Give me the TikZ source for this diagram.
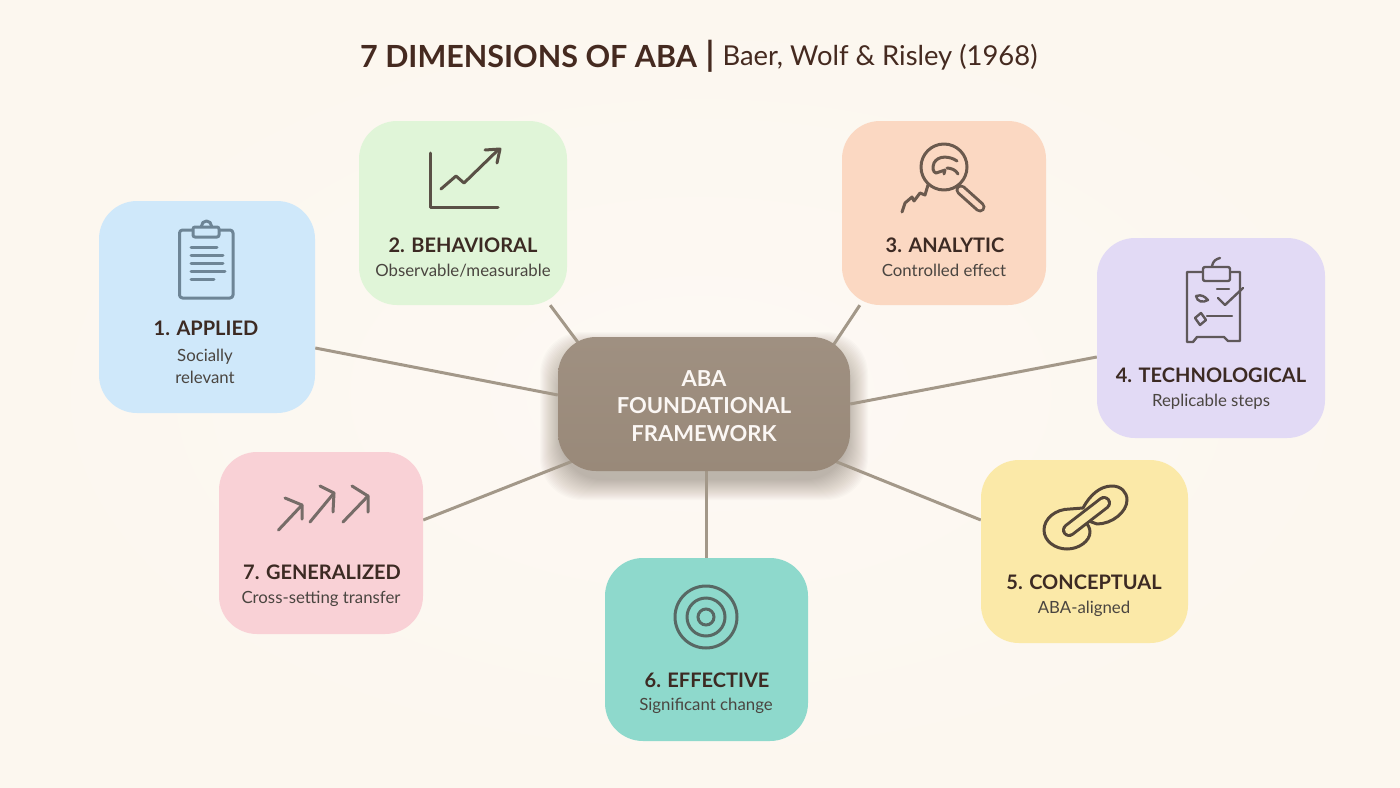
\documentclass[tikz,border=0pt]{standalone}
\usepackage{fontspec}
\setmainfont{Lato}
\usetikzlibrary{backgrounds}

\definecolor{pagecol}{HTML}{FDF9F4}
\definecolor{pageedge}{HTML}{FCF7EF}
\definecolor{inkcol}{HTML}{452A20}
\definecolor{headcol}{HTML}{3C2A23}
\definecolor{subcol}{HTML}{4A4540}
\definecolor{linkcol}{HTML}{A39889}
\definecolor{hubcol}{HTML}{998979}

\tikzset{
    card/.style={inner sep=0pt, rounded corners=38pt},
    headtxt/.style={text=headcol, font=\fontsize{20}{24}\selectfont\bfseries, inner sep=0pt},
    subtxt/.style={text=subcol, font=\fontsize{16.8}{22.5}\selectfont, inner sep=0pt, align=center},
    spoke/.style={draw=linkcol, line width=3pt},
    icon/.style={line width=3pt, line cap=round, line join=round},
}

\begin{document}
\begin{tikzpicture}[x=1pt,y=-1pt]
    \useasboundingbox (0,0) rectangle (1400,787);

    % cards
    \node[card, top color=hubcol!94!white, bottom color=hubcol, minimum width=292pt, minimum height=134pt] (hub) at (704,404) {};
    \node[card, fill={rgb,255:red,207;green,232;blue,250}, minimum width=216pt, minimum height=212pt] (box1) at (207,307) {};
    \node[card, fill={rgb,255:red,224;green,245;blue,216}, minimum width=208pt, minimum height=184pt] (box2) at (463,213) {};
    \node[card, fill={rgb,255:red,251;green,216;blue,194}, minimum width=204pt, minimum height=184pt] (box3) at (944,213) {};
    \node[card, fill={rgb,255:red,226;green,218;blue,245}, minimum width=228pt, minimum height=200pt] (box4) at (1211,338) {};
    \node[card, fill={rgb,255:red,251;green,233;blue,168}, minimum width=207pt, minimum height=183pt] (box5) at (1084.5,551.5) {};
    \node[card, fill={rgb,255:red,142;green,217;blue,204}, minimum width=203pt, minimum height=183pt] (box6) at (706.5,649.5) {};
    \node[card, fill={rgb,255:red,249;green,209;blue,214}, minimum width=204pt, minimum height=182pt] (box7) at (321,543) {};

    \begin{pgfonlayer}{background}
        \shade[inner color=pagecol, outer color=pageedge] (0,0) rectangle (1400,787);
        % soft shadow under the hub
        \foreach \s in {0,1,...,20} {
            \fill[black!70!brown, opacity=0.014, rounded corners=42pt] ({560-\s},{352-\s}) rectangle ({848+\s},{480+\s});
        }
        \draw[spoke] ([yshift=-41pt]box1.east) -- ([yshift=9pt]hub.west);
        \draw[spoke] ([xshift=-17pt]box2.south east) -- ([xshift=22pt,yshift=-8pt]hub.north west);
        \draw[spoke] ([xshift=18pt]box3.south west) -- ([xshift=-18pt,yshift=-10pt]hub.north east);
        \draw[spoke] ([yshift=-19pt]box4.west) -- (hub.east);
        \draw[spoke] ([yshift=31.5pt]box5.west) -- ([xshift=-40pt,yshift=20pt]hub.south east);
        \draw[spoke] (box6.north) -- ([xshift=2.5pt]hub.south);
        \draw[spoke] ([yshift=23pt]box7.east) -- ([xshift=40pt,yshift=20pt]hub.south west);
    \end{pgfonlayer}

    % title
    \node[text=inkcol, font=\fontsize{30.5}{36}\selectfont\bfseries, inner sep=0pt] (title) at (528.5,56) {7 DIMENSIONS OF ABA};
    \node[text=inkcol, font=\fontsize{34}{36}\selectfont\bfseries, inner sep=0pt] (bar) at (710,56) {|};
    \node[text=inkcol, font=\fontsize{27.4}{36}\selectfont, inner sep=0pt] (cite) at (880,57.5) {Baer, Wolf \& Risley (1968)};

    \node[text=white!94!brown, font=\fontsize{22}{27.3}\selectfont\bfseries, inner sep=0pt, align=center] (hubtxt) at (704,406) {ABA\\FOUNDATIONAL\\FRAMEWORK};

    % labels
    \node[headtxt] (head1) at (206,328) {1. APPLIED};
    \node[subtxt] (sub1) at (205,366.5) {Socially\\relevant};
    \node[headtxt] (head2) at (463,245) {2. BEHAVIORAL};
    \node[subtxt] (sub2) at (463,270.5) {Observable/measurable};
    \node[headtxt] (head3) at (945,245) {3. ANALYTIC};
    \node[subtxt] (sub3) at (944,270.5) {Controlled effect};
    \node[headtxt] (head4) at (1211,375.5) {4. TECHNOLOGICAL};
    \node[subtxt] (sub4) at (1211,402) {Replicable steps};
    \node[headtxt] (head5) at (1084,582) {5. CONCEPTUAL};
    \node[subtxt] (sub5) at (1084,609) {ABA-aligned};
    \node[headtxt] (head6) at (707,680) {6. EFFECTIVE};
    \node[subtxt] (sub6) at (706,706) {Significant change};
    \node[headtxt] (head7) at (322,572) {7. GENERALIZED};
    \node[subtxt] (sub7) at (321,599) {Cross-setting transfer};

    % clipboard
    \begin{scope}[icon, draw={rgb,255:red,110;green,133;blue,150}]
        \draw[rounded corners=3pt] (179.5,230) rectangle (233,298);
        \draw[fill={rgb,255:red,207;green,232;blue,250}, rounded corners=2pt] (193,227) rectangle (219,237);
        \draw (201.5,226) arc (180:360:5);
        \draw (191,247) -- (217,247);
        \draw (191,255) -- (223,255);
        \draw (191,263) -- (223,263);
        \draw (191,271) -- (225,271);
        \draw (191,279) -- (214,279);
    \end{scope}

    % chart
    \begin{scope}[icon, draw={rgb,255:red,90;green,80;blue,70}]
        \draw (430,153) -- (430,207) -- (498,207);
        \draw (441,189) -- (456,176) -- (464,183) -- (498,150);
        \draw (485,150) -- (500,149) -- (497,163);
    \end{scope}

    % magnifier
    \begin{scope}[icon, draw={rgb,255:red,107;green,90;blue,78}]
        \draw (902,212) -- (905,203) -- (912,197) -- (914,201) -- (920,193) -- (925,195) -- (928,185);
        \draw (944,167) circle (23);
        \draw[double={rgb,255:red,251;green,216;blue,194}, double distance=5pt] (961,190) -- (980,207);
        \draw (957,161) .. controls (950,156) and (938,155) .. (934,163) .. controls (932,168) and (933,172) .. (936,173) -- (945,170) -- (944,174);
        \draw (947,168) .. controls (951,168) and (956,170) .. (958,174);
    \end{scope}

    % checklist
    \begin{scope}[line width=2.4pt, line cap=round, line join=round, draw={rgb,255:red,95;green,88;blue,90}]
        \draw (1187,342) -- (1187,272) -- (1240,272) -- (1240,341) -- (1228,341) -- (1224,337) -- (1197,337) -- (1193,342) -- cycle;
        \draw[fill={rgb,255:red,226;green,218;blue,245}, rounded corners=2pt] (1203,267) rectangle (1230,281);
        \draw (1212,266) .. controls (1213,261) and (1216,259) .. (1220,258);
        \draw (1217,289) -- (1229,289);
        \draw (1218,298) -- (1225,305) -- (1243,288);
        \draw (1196,296) .. controls (1202,294) and (1205,297) .. (1208,300) .. controls (1203,303) and (1197,302) .. (1196,296);
        \draw (1195,318) -- (1201,313) -- (1206,320) -- (1200,325) -- cycle;
        \draw (1207,316) -- (1232,316);
    \end{scope}

    % link
    \begin{scope}[line width=3pt, line cap=round, line join=round, draw={rgb,255:red,84;green,70;blue,58}]
        \draw (1085,521) .. controls (1088,525) and (1090,528) .. (1090,532) .. controls (1090,541) and (1079,549) .. (1067,549) .. controls (1055,549) and (1044,541) .. (1044,530) .. controls (1044,519) and (1055,509) .. (1070,509) -- (1083,508) .. controls (1090,495) and (1100,486) .. (1112,486) .. controls (1121,486) and (1127,492) .. (1127,500) .. controls (1127,512) and (1112,524) .. (1097,524) -- (1086,520);
        \draw[double={rgb,255:red,251;green,233;blue,168}, double distance=8pt] (1069,530) -- (1104,503);
    \end{scope}

    % target
    \begin{scope}[line width=3pt, draw={rgb,255:red,88;green,104;blue,100}]
        \draw (706,617) circle (31);
        \draw (706,617) circle (19);
        \draw (706,617) circle (8);
    \end{scope}

    % arrows
    \begin{scope}[icon, draw={rgb,255:red,118;green,108;blue,104}]
        \draw (278.5,530) -- (302,505);
        \draw (285,498) -- (302,505) -- (302,519);
        \draw (310,522) -- (334,493);
        \draw (320,486) -- (334,493) -- (333,512);
        \draw (343,522) -- (368,496);
        \draw (352,486) -- (368,496) -- (368,512);
    \end{scope}
\end{tikzpicture}
\end{document}
